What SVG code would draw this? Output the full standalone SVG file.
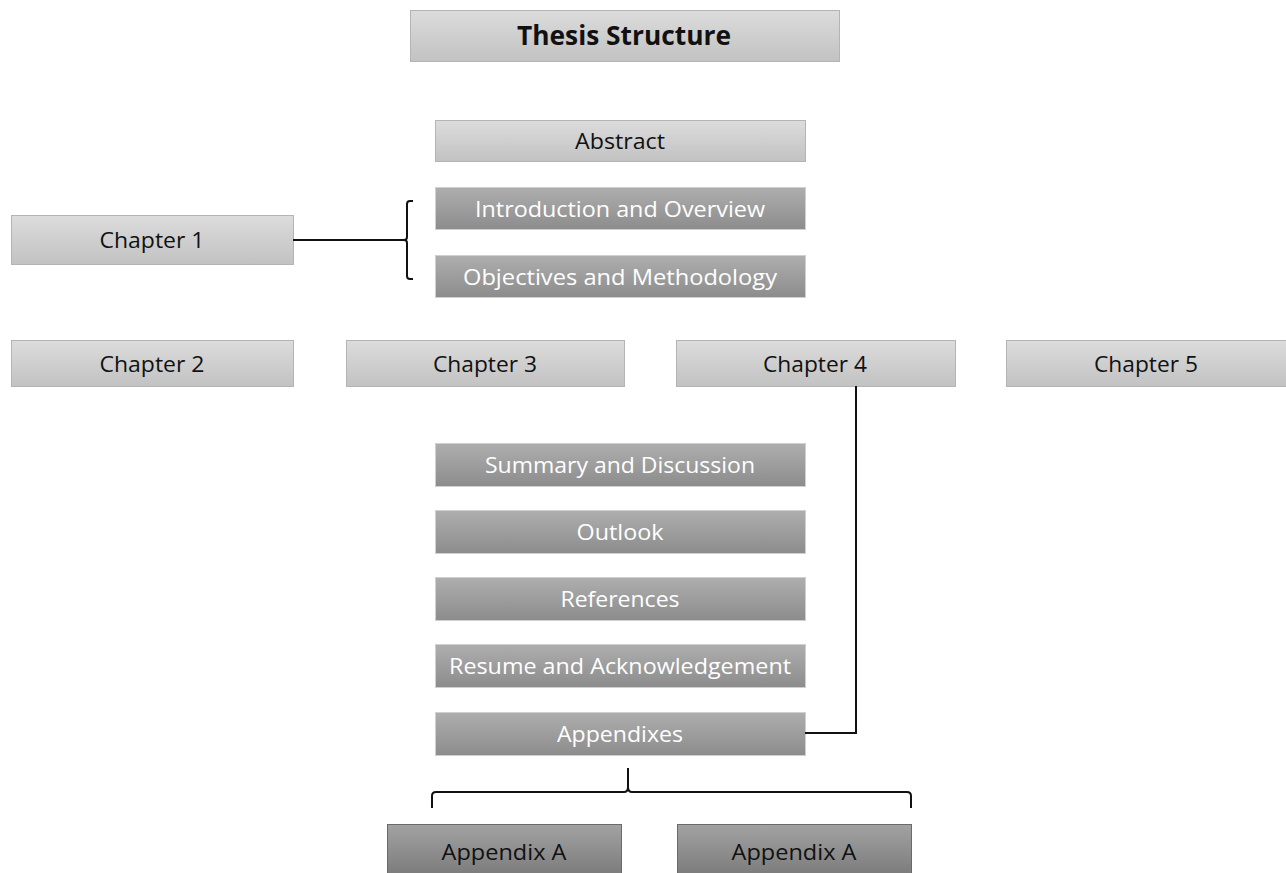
<svg xmlns="http://www.w3.org/2000/svg" width="1286" height="873" viewBox="0 0 1286 873">
<defs>
<linearGradient id="gl" x1="0" y1="0" x2="0" y2="1"><stop offset="0" stop-color="#dcdcdc"/><stop offset="1" stop-color="#c2c2c2"/></linearGradient>
<linearGradient id="gd" x1="0" y1="0" x2="0" y2="1"><stop offset="0" stop-color="#aeaeae"/><stop offset="1" stop-color="#8c8c8c"/></linearGradient>
<linearGradient id="ga" x1="0" y1="0" x2="0" y2="1"><stop offset="0" stop-color="#a2a2a2"/><stop offset="1" stop-color="#7c7c7c"/></linearGradient>
</defs>
<style>
.l{fill:url(#gl);stroke:#b4b4b4;stroke-width:1}
.d{fill:url(#gd);stroke:#d0d0d0;stroke-width:1}
.a{fill:url(#ga);stroke:#6a6a6a;stroke-width:1}
text{font-family:"Open Sans","Liberation Sans",sans-serif;font-size:22px;text-anchor:middle}
.tb{fill:#111}
.tw{fill:#fff}
.title{font-weight:bold;font-size:26px}
.c{fill:none;stroke:#111;stroke-width:2}
</style>
<g id="title"><rect class="l" x="410.5" y="10.5" width="429" height="51"/><text class="tb title" x="624" y="45" textLength="214" lengthAdjust="spacingAndGlyphs">Thesis Structure</text></g>
<g id="abstract"><rect class="l" x="435.5" y="120.5" width="370" height="41"/><text class="tb" x="620" y="149" textLength="90" lengthAdjust="spacingAndGlyphs">Abstract</text></g>
<g id="intro"><rect class="d" x="435.5" y="187.5" width="370" height="42"/><text class="tw" x="620" y="217" textLength="290" lengthAdjust="spacingAndGlyphs">Introduction and Overview</text></g>
<g id="objectives"><rect class="d" x="435.5" y="255.5" width="370" height="42"/><text class="tw" x="620" y="285" textLength="314" lengthAdjust="spacingAndGlyphs">Objectives and Methodology</text></g>
<g id="chapter1"><rect class="l" x="11.5" y="215.5" width="282" height="49"/><text class="tb" x="152" y="248" textLength="105" lengthAdjust="spacingAndGlyphs">Chapter 1</text></g>
<g id="chapter2"><rect class="l" x="11.5" y="340.5" width="282" height="46"/><text class="tb" x="152" y="372" textLength="105" lengthAdjust="spacingAndGlyphs">Chapter 2</text></g>
<g id="chapter3"><rect class="l" x="346.5" y="340.5" width="278" height="46"/><text class="tb" x="485" y="372" textLength="104" lengthAdjust="spacingAndGlyphs">Chapter 3</text></g>
<g id="chapter4"><rect class="l" x="676.5" y="340.5" width="279" height="46"/><text class="tb" x="815" y="372" textLength="104" lengthAdjust="spacingAndGlyphs">Chapter 4</text></g>
<g id="chapter5"><rect class="l" x="1006.5" y="340.5" width="280" height="46"/><text class="tb" x="1146" y="372" textLength="104" lengthAdjust="spacingAndGlyphs">Chapter 5</text></g>
<g id="summary"><rect class="d" x="435.5" y="443.5" width="370" height="43"/><text class="tw" x="620" y="473" textLength="270" lengthAdjust="spacingAndGlyphs">Summary and Discussion</text></g>
<g id="outlook"><rect class="d" x="435.5" y="510.5" width="370" height="43"/><text class="tw" x="620" y="540" textLength="87" lengthAdjust="spacingAndGlyphs">Outlook</text></g>
<g id="references"><rect class="d" x="435.5" y="577.5" width="370" height="43"/><text class="tw" x="620" y="607" textLength="119" lengthAdjust="spacingAndGlyphs">References</text></g>
<g id="resume"><rect class="d" x="435.5" y="644.5" width="370" height="43"/><text class="tw" x="620" y="674" textLength="342" lengthAdjust="spacingAndGlyphs">Resume and Acknowledgement</text></g>
<g id="appendixes"><rect class="d" x="435.5" y="712.5" width="370" height="43"/><text class="tw" x="620" y="742" textLength="126" lengthAdjust="spacingAndGlyphs">Appendixes</text></g>
<g id="appendixA1"><rect class="a" x="387.5" y="824.5" width="234" height="50"/><text class="tb" x="504" y="860" textLength="125" lengthAdjust="spacingAndGlyphs">Appendix A</text></g>
<g id="appendixA2"><rect class="a" x="677.5" y="824.5" width="234" height="50"/><text class="tb" x="794" y="860" textLength="125" lengthAdjust="spacingAndGlyphs">Appendix A</text></g>
<g id="connectors">
<path class="c" d="M293,240 H404"/>
<path class="c" d="M413,201 H410 Q407,201 407,204 V237 Q407,240 404,240 Q407,240 407,243 V276 Q407,279 410,279 H413"/>
<path class="c" d="M856,386 V733 H805"/>
<path class="c" d="M432,808 V796 Q432,792 436,792 H624 Q628,792 628,787 V768 M628,787 Q628,792 632,792 H907 Q911,792 911,796 V808"/>
</g>
</svg>
